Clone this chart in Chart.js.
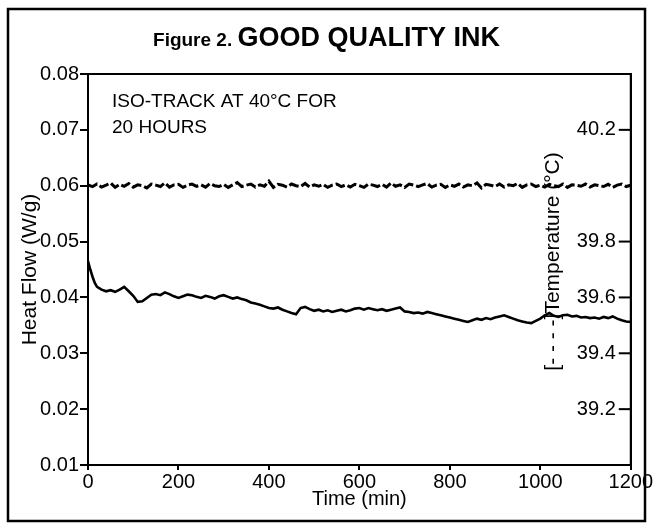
<!DOCTYPE html>
<html><head><meta charset="utf-8">
<script src="https://cdn.jsdelivr.net/npm/chart.js@4.4.1/dist/chart.umd.min.js"></script>
<style>html,body{margin:0;padding:0;background:#fff}#wrap{width:653px;height:525px;position:relative}</style>
</head><body><div id="wrap"><canvas id="c" width="653" height="525"></canvas></div>
<script>
const titleSmall = 'Figure 2.';
const titleLarge = 'GOOD QUALITY INK';
const noteLines = ['ISO-TRACK AT 40°C FOR', '20 HOURS'];
const xTitle = 'Time (min)';
const yTitle = 'Heat Flow (W/g)';
const y2Title = '[- - - -]Temperature (°C)';
const timeTicks = [0, 200, 400, 600, 800, 1000, 1200];
const heatTicks = [0.01, 0.02, 0.03, 0.04, 0.05, 0.06, 0.07, 0.08];
const tempTicks = [39.2, 39.4, 39.6, 39.8, 40.2];

const heatTime = [0,5,10,15,20,30,40,50,60,70,80,90,100,110,120,130,140,150,160,170,180,190,200,210,220,230,240,250,260,270,280,290,300,310,320,330,340,350,360,370,380,390,400,410,420,430,440,450,460,470,480,490,500,510,520,530,540,550,560,570,580,590,600,610,620,630,640,650,660,670,680,690,700,710,720,730,740,750,760,770,780,790,800,810,820,830,840,850,860,870,880,890,900,910,920,930,940,950,960,970,980,990,1000,1010,1020,1030,1040,1050,1060,1070,1080,1090,1100,1110,1120,1130,1140,1150,1160,1170,1180,1190,1200];
const heatFlow = [
0.0465,0.0450,0.0437,0.0426,0.0419,
0.0414,0.0411,0.0413,0.0410,0.0414,0.0419,0.0411,0.0403,0.0392,0.0393,
0.0399,0.0405,0.0406,0.0404,0.0409,0.0406,0.0402,0.0399,0.0402,0.0405,
0.0404,0.0401,0.0399,0.0403,0.0401,0.0398,0.0402,0.0404,0.0401,0.0398,
0.0400,0.0397,0.0395,0.0391,0.0389,0.0387,0.0384,0.0381,0.0380,0.0382,
0.0378,0.0375,0.0372,0.0370,0.0381,0.0383,0.0379,0.0376,0.0378,0.0375,
0.0377,0.0374,0.0376,0.0378,0.0375,0.0377,0.0380,0.0381,0.0378,0.0381,
0.0379,0.0377,0.0379,0.0376,0.0378,0.0380,0.0382,0.0375,0.0374,0.0372,
0.0373,0.0371,0.0374,0.0372,0.0370,0.0368,0.0366,0.0364,0.0362,0.0360,
0.0358,0.0356,0.0359,0.0362,0.0360,0.0363,0.0361,0.0364,0.0366,0.0368,
0.0365,0.0362,0.0359,0.0357,0.0355,0.0354,0.0358,0.0362,0.0368,0.0372,
0.0367,0.0365,0.0368,0.0369,0.0366,0.0367,0.0364,0.0365,0.0363,0.0364,
0.0362,0.0365,0.0363,0.0366,0.0362,0.0359,0.0357,0.0356];

const tempTime = [0,10,20,30,40,50,60,70,80,90,100,110,120,130,140,150,160,170,180,190,200,210,220,230,240,250,260,270,280,290,300,310,320,330,340,350,360,370,380,390,400,410,420,430,440,450,460,470,480,490,500,510,520,530,540,550,560,570,580,590,600,610,620,630,640,650,660,670,680,690,700,710,720,730,740,750,760,770,780,790,800,810,820,830,840,850,860,870,880,890,900,910,920,930,940,950,960,970,980,990,1000,1010,1020,1030,1040,1050,1060,1070,1080,1090,1100,1110,1120,1130,1140,1150,1160,1170,1180,1190,1200];
const temperature = [
40.003,39.997,40.006,39.995,40.002,40.010,39.994,40.005,39.998,40.008,
39.995,40.003,40.000,39.992,40.006,40.002,39.997,40.010,39.995,40.003,
40.005,39.994,40.002,40.006,39.998,40.003,39.995,40.008,40.000,39.997,
40.005,39.994,40.003,40.011,39.997,40.002,40.006,39.995,40.003,39.998,
40.016,39.994,40.005,40.002,39.995,40.006,40.000,39.997,40.008,39.995,
40.003,39.998,40.005,39.994,40.002,40.006,39.997,40.003,39.995,40.005,
40.000,39.994,40.006,40.002,39.997,40.005,39.995,40.010,39.998,40.003,
39.994,40.006,40.002,39.997,40.003,40.008,39.995,40.002,40.005,39.994,
40.003,39.998,40.006,39.995,40.003,40.000,40.010,39.992,40.005,40.002,
39.997,40.006,39.995,40.003,40.000,40.008,39.994,40.003,40.006,39.997,
40.002,39.995,40.005,40.000,39.997,40.006,39.994,40.003,40.002,39.998,
40.006,39.995,40.003,40.000,39.997,40.005,39.994,40.002,40.006,39.997,
40.002];

const FONT = '"Liberation Sans", Arial, Helvetica, sans-serif';

const decor = {
  id: 'decor',
  afterDraw(chart) {
    const {ctx, chartArea: a, scales} = chart;
    ctx.save();
    ctx.strokeStyle = '#000';
    ctx.fillStyle = '#000';
    ctx.lineWidth = 2;
    ctx.strokeRect(a.left, a.top, a.right - a.left, a.bottom - a.top);
    ctx.lineWidth = 2.5;
    ctx.strokeRect(8, 9, 637, 512);
    const s2 = scales.y2;
    ctx.lineWidth = 2;
    s2.ticks.forEach(t => {
      const y = s2.getPixelForValue(t.value);
      ctx.beginPath(); ctx.moveTo(a.right - 12, y); ctx.lineTo(a.right, y); ctx.stroke();
    });
    ctx.textBaseline = 'alphabetic';
    ctx.textAlign = 'left';
    ctx.font = 'bold 19px ' + FONT;
    const w1 = ctx.measureText(titleSmall + ' ').width;
    ctx.font = 'bold 27px ' + FONT;
    const w2 = ctx.measureText(titleLarge).width;
    const x0 = (chart.width - w1 - w2) / 2;
    ctx.font = 'bold 19px ' + FONT;
    ctx.fillText(titleSmall, x0, 46);
    ctx.font = 'bold 27px ' + FONT;
    ctx.fillText(titleLarge, x0 + w1, 46);
    ctx.font = '19px ' + FONT;
    ctx.textBaseline = 'middle';
    noteLines.forEach((l, i) => ctx.fillText(l, a.left + 24, a.top + 28 + i * 26));
    ctx.save();
    ctx.translate(a.right - 78, (a.top + a.bottom) / 2 - 8);
    ctx.rotate(-Math.PI / 2);
    ctx.textAlign = 'center';
    ctx.textBaseline = 'middle';
    ctx.font = '21px ' + FONT;
    ctx.fillText(y2Title, 0, 0);
    ctx.restore();
    ctx.restore();
  }
};

new Chart(document.getElementById('c'), {
  type: 'line',
  data: {
    datasets: [
      { label: 'Heat Flow', data: heatTime.map((t, i) => ({x: t, y: heatFlow[i]})), yAxisID: 'y',
        borderColor: '#000', borderWidth: 2.6, pointRadius: 0, tension: 0, fill: false },
      { label: 'Temperature', data: tempTime.map((t, i) => ({x: t, y: temperature[i]})), yAxisID: 'y2',
        borderColor: '#000', borderWidth: 3, borderDash: [10, 3], pointRadius: 0, tension: 0, fill: false }
    ]
  },
  options: {
    responsive: false, animation: false, devicePixelRatio: 1,
    layout: { padding: { top: 74, left: 0, right: 0, bottom: 0 } },
    plugins: { legend: { display: false }, tooltip: { enabled: false }, title: { display: false } },
    scales: {
      x: {
        type: 'linear', min: 0, max: 1200,
        afterBuildTicks: s => { s.ticks = timeTicks.map(v => ({value: v})); },
        afterFit: s => { s.height = 60; },
        grid: { drawOnChartArea: false, drawTicks: true, tickLength: 5, color: '#000', lineWidth: 2 },
        border: { display: true, color: '#000', width: 2 },
        ticks: { color: '#000', font: { size: 20, family: FONT }, padding: 0, maxRotation: 0, autoSkip: false, callback: v => String(v) },
        title: { display: true, text: xTitle, color: '#000', font: { size: 20, family: FONT }, padding: { top: 0, bottom: 14 } }
      },
      y: {
        type: 'linear', position: 'left', min: 0.01, max: 0.08,
        afterBuildTicks: s => { s.ticks = heatTicks.map(v => ({value: v})); },
        afterFit: s => { s.width = 88; },
        grid: { drawOnChartArea: false, drawTicks: true, tickLength: 8, color: '#000', lineWidth: 2 },
        border: { display: true, color: '#000', width: 2 },
        ticks: { color: '#000', font: { size: 20, family: FONT }, padding: 1, callback: v => v.toFixed(2) },
        title: { display: true, text: yTitle, color: '#000', font: { size: 21, family: FONT }, padding: { top: 18, bottom: 0 } }
      },
      y2: {
        type: 'linear', position: 'right', min: 39.0, max: 40.4,
        afterBuildTicks: s => { s.ticks = tempTicks.map(v => ({value: v})); },
        afterFit: s => { s.width = 21; },
        grid: { drawOnChartArea: false, drawTicks: false },
        border: { display: true, color: '#000', width: 2 },
        ticks: { color: '#000', font: { size: 20, family: FONT }, mirror: true, padding: -15, callback: v => v.toFixed(1) }
      }
    }
  },
  plugins: [decor]
});
</script></body></html>
